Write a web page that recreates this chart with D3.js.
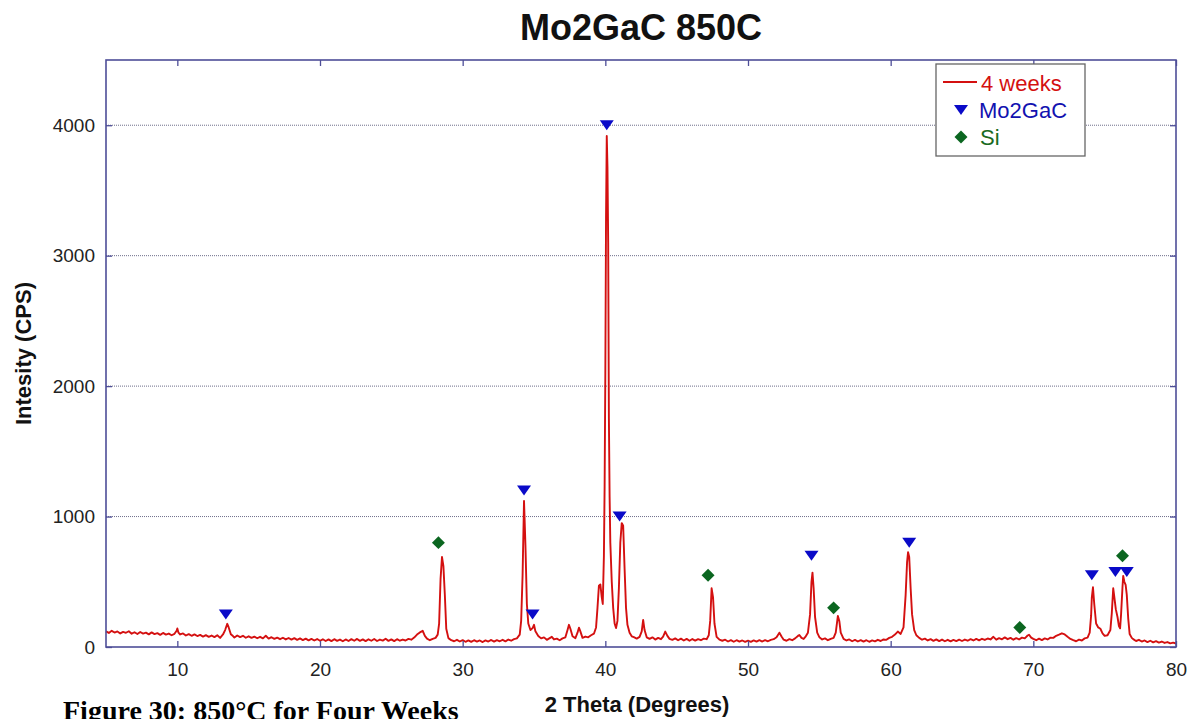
<!DOCTYPE html>
<html>
<head>
<meta charset="utf-8">
<script src="https://cdn.jsdelivr.net/npm/d3@7"></script>
<style>
  html, body { margin: 0; padding: 0; background: #fff; }
  svg { display: block; }
</style>
</head>
<body>
<svg id="chart" width="1188" height="719"></svg>
<script>
// XRD scan of Mo2GaC after 850C for four weeks: [2 theta (deg), intensity (CPS)]
const scan = [
  [5.0,120],[5.2,108],[5.4,124],[5.6,111],[5.8,119],[6.0,104],[6.2,116],[6.4,109],[6.6,121],[6.8,102],
  [7.0,113],[7.2,100],[7.4,115],[7.6,103],[7.8,110],[8.0,97],[8.2,112],[8.4,99],[8.6,106],[8.8,93],
  [9.0,108],[9.2,95],[9.4,103],[9.6,90],[9.8,101],[9.95,125],[10.0,142],[10.08,110],[10.2,96],[10.4,104],
  [10.6,88],[10.8,99],[11.0,86],[11.2,97],[11.4,84],[11.6,93],[11.8,80],[12.0,91],[12.2,78],[12.4,88],
  [12.6,76],[12.8,90],[13.0,70],[13.2,96],[13.35,130],[13.5,178],[13.6,150],[13.75,98],[13.9,84],[14.0,72],
  [14.2,88],[14.4,76],[14.6,86],[14.8,71],[15.0,82],[15.2,70],[15.4,79],[15.6,67],[15.8,78],[16.0,66],
  [16.2,86],[16.4,64],[16.6,75],[16.8,62],[17.0,72],[17.2,60],[17.4,71],[17.6,58],[17.8,69],[18.0,57],
  [18.2,68],[18.4,55],[18.6,66],[18.8,53],[19.0,64],[19.2,51],[19.4,62],[19.6,50],[19.8,61],[20.0,48],
  [20.2,59],[20.4,46],[20.6,58],[20.8,45],[21.0,60],[21.2,47],[21.4,57],[21.6,44],[21.8,58],[22.0,46],
  [22.2,60],[22.4,48],[22.6,62],[22.8,47],[23.0,58],[23.2,45],[23.4,59],[23.6,48],[23.8,61],[24.0,46],
  [24.2,57],[24.4,49],[24.6,63],[24.8,47],[25.0,58],[25.2,45],[25.4,60],[25.6,48],[25.8,57],[26.0,50],
  [26.2,62],[26.4,56],[26.6,72],[26.8,95],[27.0,112],[27.2,124],[27.35,85],[27.5,64],[27.7,52],[27.9,63],
  [28.1,70],[28.25,95],[28.35,180],[28.45,520],[28.55,690],[28.65,620],[28.75,400],[28.85,140],[29.0,68],[29.2,52],
  [29.4,44],[29.6,55],[29.8,42],[30.0,53],[30.2,40],[30.4,51],[30.6,39],[30.8,52],[31.0,41],[31.2,50],
  [31.4,38],[31.6,51],[31.8,42],[32.0,54],[32.2,41],[32.4,53],[32.6,44],[32.8,55],[33.0,43],[33.2,57],
  [33.4,48],[33.6,60],[33.8,66],[34.0,95],[34.1,200],[34.2,550],[34.3,1120],[34.4,780],[34.5,330],[34.6,180],
  [34.75,130],[34.9,145],[35.0,170],[35.1,120],[35.3,85],[35.5,66],[35.7,74],[35.9,55],[36.1,68],[36.25,78],
  [36.4,58],[36.6,64],[36.8,52],[37.0,66],[37.2,74],[37.35,130],[37.45,170],[37.55,140],[37.7,82],[37.9,68],
  [38.05,110],[38.15,148],[38.25,120],[38.4,70],[38.6,80],[38.8,74],[39.0,90],[39.2,102],[39.35,150],[39.45,300],
  [39.55,470],[39.65,480],[39.75,380],[39.82,330],[39.9,700],[39.95,1230],[40.0,2100],[40.05,3300],[40.1,3917],[40.15,3680],
  [40.2,3100],[40.25,1750],[40.3,1150],[40.35,800],[40.45,500],[40.55,300],[40.65,180],[40.75,145],[40.85,200],[40.95,450],
  [41.05,800],[41.15,950],[41.25,930],[41.35,600],[41.45,300],[41.55,170],[41.7,110],[41.85,82],[42.0,75],[42.2,64],
  [42.4,78],[42.55,120],[42.65,207],[42.75,130],[42.9,74],[43.1,62],[43.3,74],[43.5,57],[43.7,70],[43.9,60],
  [44.05,80],[44.2,118],[44.35,85],[44.5,62],[44.7,55],[44.9,66],[45.1,52],[45.3,64],[45.5,50],[45.7,62],
  [45.9,48],[46.1,61],[46.3,49],[46.5,60],[46.7,52],[46.9,64],[47.1,60],[47.25,90],[47.35,200],[47.45,450],
  [47.55,380],[47.65,180],[47.8,78],[48.0,56],[48.2,48],[48.4,56],[48.6,42],[48.8,53],[49.0,40],[49.2,52],
  [49.4,41],[49.6,50],[49.8,39],[50.0,49],[50.2,40],[50.4,51],[50.6,41],[50.8,52],[51.0,42],[51.2,53],
  [51.4,44],[51.6,55],[51.8,60],[52.0,75],[52.2,110],[52.35,80],[52.5,56],[52.7,48],[52.9,60],[53.1,52],
  [53.3,66],[53.5,85],[53.6,92],[53.75,70],[53.9,62],[54.05,82],[54.2,110],[54.35,250],[54.45,500],[54.52,570],
  [54.6,450],[54.7,230],[54.85,110],[55.0,75],[55.2,58],[55.4,66],[55.6,52],[55.8,63],[56.0,70],[56.15,110],
  [56.3,238],[56.4,200],[56.5,110],[56.7,62],[56.9,50],[57.1,58],[57.3,44],[57.5,54],[57.7,42],[57.9,53],
  [58.1,41],[58.3,52],[58.5,40],[58.7,51],[58.9,43],[59.1,55],[59.3,46],[59.5,58],[59.7,55],[59.9,70],
  [60.1,78],[60.3,95],[60.5,118],[60.7,100],[60.9,150],[61.05,400],[61.15,650],[61.22,727],[61.3,690],[61.4,450],
  [61.5,250],[61.65,130],[61.8,90],[62.0,70],[62.2,56],[62.4,64],[62.6,50],[62.8,60],[63.0,47],[63.2,58],
  [63.4,45],[63.6,57],[63.8,44],[64.0,55],[64.2,43],[64.4,54],[64.6,45],[64.8,56],[65.0,46],[65.2,57],
  [65.4,48],[65.6,60],[65.8,50],[66.0,62],[66.2,51],[66.4,63],[66.6,54],[66.8,65],[67.0,58],[67.2,78],
  [67.4,56],[67.6,68],[67.8,59],[68.0,74],[68.2,60],[68.4,70],[68.6,56],[68.8,68],[69.0,58],[69.2,72],
  [69.4,66],[69.6,88],[69.7,94],[69.85,72],[70.0,62],[70.2,52],[70.4,64],[70.6,53],[70.8,66],[71.0,58],
  [71.2,72],[71.4,70],[71.6,86],[71.8,95],[72.0,105],[72.2,96],[72.4,78],[72.6,62],[72.8,52],[73.0,44],
  [73.2,56],[73.4,50],[73.6,66],[73.8,72],[73.95,110],[74.05,240],[74.1,380],[74.18,458],[74.27,330],[74.4,180],
  [74.55,150],[74.7,140],[74.85,105],[75.0,85],[75.2,90],[75.4,130],[75.5,260],[75.6,450],[75.68,380],[75.78,290],
  [75.9,230],[76.0,160],[76.08,143],[76.15,250],[76.25,460],[76.3,545],[76.38,500],[76.47,476],[76.55,400],[76.65,220],
  [76.75,100],[76.9,70],[77.0,60],[77.2,46],[77.4,55],[77.6,42],[77.8,50],[78.0,38],[78.2,48],[78.4,36],
  [78.6,45],[78.8,34],[79.0,42],[79.2,31],[79.4,38],[79.6,28],[79.8,33],[80.0,27]
];

// Reflections indexed to Mo2GaC (downward triangles)
const mo2gacPeaks = [
  [13.4,250],[34.3,1200],[34.9,250],[40.1,4000],[41.0,1000],
  [54.45,700],[61.3,800],[74.1,550],[75.75,575],[76.55,575]
];

// Reflections from the Si standard (diamonds)
const siPeaks = [
  [28.3,800],[47.2,550],[56.0,300],[69.05,150],[76.25,700]
];

const xTicks = [10,20,30,40,50,60,70,80];
const yTicks = [0,1000,2000,3000,4000];
const yGrid = [1000,2000,3000,4000];
const legendItems = ["4 weeks","Mo2GaC","Si"];

const colors = { line: "#d41010", mo: "#0a0ac8", si: "#0b6620", axis: "#4e4e98", text: "#222" };

const svg = d3.select("#chart");
const plotLeft = 106, plotRight = 1176, plotTop = 60, plotBottom = 647;

const x = d3.scaleLinear().domain([5, 80]).range([plotLeft, plotRight]);
const y = d3.scaleLinear().domain([0, 4500]).range([plotBottom, plotTop]);

svg.append("rect").attr("width", 1188).attr("height", 719).attr("fill", "#fff");

// Dotted horizontal grid
svg.append("g").selectAll("line").data(yGrid).join("line")
  .attr("x1", plotLeft).attr("x2", plotRight)
  .attr("y1", d => y(d)).attr("y2", d => y(d))
  .attr("stroke", "#6e6e8a").attr("stroke-width", 1)
  .attr("stroke-dasharray", "1,1");

// Diffraction trace
const line = d3.line().x(d => x(d[0])).y(d => y(d[1]));
svg.append("path").datum(scan)
  .attr("d", line)
  .attr("fill", "none")
  .attr("stroke", colors.line)
  .attr("stroke-width", 1.9)
  .attr("stroke-linejoin", "round");

// Peak markers
const triPath = "M-7,-5L7,-5L0,5Z";
svg.append("g").selectAll("path").data(mo2gacPeaks).join("path")
  .attr("d", triPath)
  .attr("transform", d => `translate(${x(d[0])},${y(d[1])})`)
  .attr("fill", colors.mo);

const diamond = d3.symbol(d3.symbolSquare, 84)();
svg.append("g").selectAll("path").data(siPeaks).join("path")
  .attr("d", diamond)
  .attr("transform", d => `translate(${x(d[0])},${y(d[1])}) rotate(45)`)
  .attr("fill", colors.si);

// Axes with inward ticks on all four sides
function styleAxis(g) {
  g.select(".domain").remove();
  g.selectAll(".tick line").attr("stroke", colors.axis).attr("stroke-width", 1.3);
}
svg.append("g").attr("transform", `translate(0,${plotBottom})`)
  .call(d3.axisBottom(x).tickValues(xTicks).tickSizeInner(-6).tickSizeOuter(0).tickPadding(16))
  .call(styleAxis)
  .call(g => g.selectAll("text").attr("font-family", "Liberation Sans, Arial, sans-serif")
    .attr("font-size", 19).attr("fill", colors.text));
svg.append("g").attr("transform", `translate(0,${plotTop})`)
  .call(d3.axisTop(x).tickValues(xTicks).tickSizeInner(-6).tickSizeOuter(0).tickFormat(""))
  .call(styleAxis);
svg.append("g").attr("transform", `translate(${plotLeft},0)`)
  .call(d3.axisLeft(y).tickValues(yTicks).tickFormat(d3.format("d"))
    .tickSizeInner(-6).tickSizeOuter(0).tickPadding(11))
  .call(styleAxis)
  .call(g => g.selectAll("text").attr("font-family", "Liberation Sans, Arial, sans-serif")
    .attr("font-size", 19).attr("fill", colors.text));
svg.append("g").attr("transform", `translate(${plotRight},0)`)
  .call(d3.axisRight(y).tickValues(yTicks).tickSizeInner(-6).tickSizeOuter(0).tickFormat(""))
  .call(styleAxis);

// Plot frame
svg.append("rect")
  .attr("x", plotLeft).attr("y", plotTop)
  .attr("width", plotRight - plotLeft).attr("height", plotBottom - plotTop)
  .attr("fill", "none").attr("stroke", colors.axis).attr("stroke-width", 1.6);

// Legend
const lg = svg.append("g").attr("font-family", "Liberation Sans, Arial, sans-serif").attr("font-size", 22);
lg.append("rect").attr("x", 936).attr("y", 64).attr("width", 149).attr("height", 92)
  .attr("fill", "#fff").attr("stroke", "#666").attr("stroke-width", 1.3);
lg.append("line").attr("x1", 943).attr("x2", 977).attr("y1", 82).attr("y2", 82)
  .attr("stroke", colors.line).attr("stroke-width", 1.9);
lg.append("path").attr("d", triPath).attr("transform", "translate(961,110)").attr("fill", colors.mo);
lg.append("path").attr("d", diamond).attr("transform", "translate(961,137) rotate(45)").attr("fill", colors.si);
lg.append("text").attr("x", 981).attr("y", 91).attr("fill", colors.line).text(legendItems[0]);
lg.append("text").attr("x", 979).attr("y", 118).attr("fill", "#1212b0").text(legendItems[1]);
lg.append("text").attr("x", 980).attr("y", 145).attr("fill", "#1a6a22").text(legendItems[2]);

// Titles
svg.append("text").attr("x", (plotLeft + plotRight) / 2).attr("y", 40)
  .attr("text-anchor", "middle").attr("font-family", "Liberation Sans, Arial, sans-serif")
  .attr("font-weight", "bold").attr("font-size", 36).attr("fill", "#111")
  .text("Mo2GaC 850C");
svg.append("text").attr("x", 637).attr("y", 712)
  .attr("text-anchor", "middle").attr("font-family", "Liberation Sans, Arial, sans-serif")
  .attr("font-weight", "bold").attr("font-size", 22).attr("fill", "#111")
  .text("2 Theta (Degrees)");
svg.append("text").attr("transform", `translate(31,${(plotTop + plotBottom) / 2}) rotate(-90)`)
  .attr("text-anchor", "middle").attr("font-family", "Liberation Sans, Arial, sans-serif")
  .attr("font-weight", "bold").attr("font-size", 22).attr("fill", "#111")
  .text("Intesity (CPS)");

// Figure caption
svg.append("text").attr("x", 63).attr("y", 720)
  .attr("font-family", "Liberation Serif, serif")
  .attr("font-weight", "bold").attr("font-size", 28).attr("fill", "#000")
  .text("Figure 30: 850°C for Four Weeks");
</script>
</body>
</html>
